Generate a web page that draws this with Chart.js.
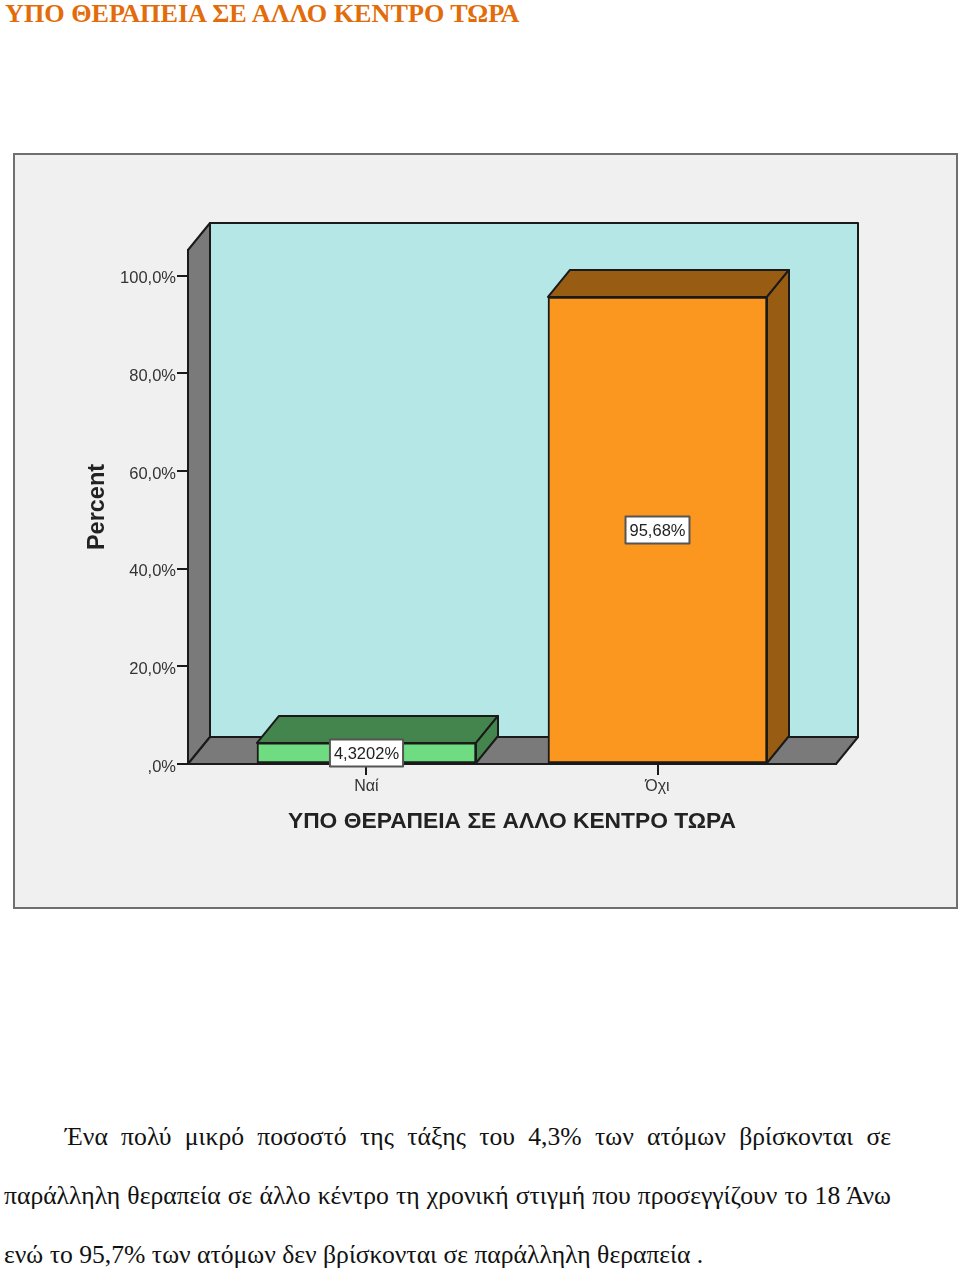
<!DOCTYPE html>
<html lang="el">
<head>
<meta charset="utf-8">
<title>ΥΠΟ ΘΕΡΑΠΕΙΑ ΣΕ ΑΛΛΟ ΚΕΝΤΡΟ ΤΩΡΑ</title>
<script src="https://cdn.jsdelivr.net/npm/chart.js@4"></script>
<style>
    html, body { margin: 0; padding: 0; background: #fff; height: 1268px; overflow: hidden; }
    #heading { position: absolute; left: 5px; top: 0; margin: 0; font: bold 26.2px/27px "Liberation Serif", serif; color: #e36c0a; white-space: nowrap; }
    #panel { position: absolute; left: 13px; top: 153px; width: 941px; height: 752px; background: #f0f0f0; border: 2px solid #6f6f6f; }
    #chart { position: absolute; left: -2px; top: -2px; }
    #summary { position: absolute; left: 4px; top: 1106.5px; width: 887px; margin: 0; font: 25.65px/59px "Liberation Serif", serif; color: #111; text-align: justify; text-indent: 61px; }
</style>
</head>
<body>
<h1 id="heading">ΥΠΟ ΘΕΡΑΠΕΙΑ ΣΕ ΑΛΛΟ ΚΕΝΤΡΟ ΤΩΡΑ</h1>
<div id="panel"><canvas id="chart" width="944" height="756"></canvas></div>
<p id="summary">Ένα πολύ μικρό ποσοστό της τάξης του 4,3% των ατόμων βρίσκονται σε παράλληλη θεραπεία σε άλλο κέντρο τη χρονική στιγμή που προσεγγίζουν το 18 Άνω ενώ το 95,7% των ατόμων δεν βρίσκονται σε παράλληλη θεραπεία .</p>
<script>
const categories = ["Ναί", "Όχι"];
const percents = [4.3202, 95.68];
const valueLabels = ["4,3202%", "95,68%"];
const frontColors = ["#70dc82", "#fb961e"];
const sideColors = ["#44854e", "#985c12"];
const axisTitleX = "ΥΠΟ ΘΕΡΑΠΕΙΑ ΣΕ ΑΛΛΟ ΚΕΝΤΡΟ ΤΩΡΑ";
const axisTitleY = "Percent";

const depthX = 22, depthY = -27;
const lineColor = "#1a1a1a";
const chartFont = "Liberation Sans";

function face(ctx, points, fill) {
    ctx.beginPath();
    points.forEach((p, i) => i ? ctx.lineTo(p[0], p[1]) : ctx.moveTo(p[0], p[1]));
    ctx.closePath();
    ctx.fillStyle = fill;
    ctx.fill();
    ctx.strokeStyle = lineColor;
    ctx.lineWidth = 2;
    ctx.stroke();
}

// the box behind the bars: back wall, left wall and floor
const wallsPlugin = {
    id: "walls",
    beforeDatasetsDraw(chart) {
        let { left, right, top, bottom } = chart.chartArea;
        let ctx = chart.ctx;
        ctx.save();
        ctx.lineJoin = "round";
        face(ctx, [[left + depthX, top + depthY], [right + depthX, top + depthY], [right + depthX, bottom + depthY], [left + depthX, bottom + depthY]], "#b5e7e7");
        face(ctx, [[left, top], [left + depthX, top + depthY], [left + depthX, bottom + depthY], [left, bottom]], "#7a7a7a");
        face(ctx, [[left, bottom], [left + depthX, bottom + depthY], [right + depthX, bottom + depthY], [right, bottom]], "#7a7a7a");
        ctx.restore();
    }
};

// top and side faces of each bar, then the value boxes
const barFacesPlugin = {
    id: "barFaces",
    afterDatasetsDraw(chart) {
        let ctx = chart.ctx;
        let bars = chart.getDatasetMeta(0).data;
        ctx.save();
        ctx.lineJoin = "round";
        bars.forEach((bar, i) => {
            let l = bar.x - bar.width / 2, r = bar.x + bar.width / 2;
            face(ctx, [[l, bar.y], [l + depthX, bar.y + depthY], [r + depthX, bar.y + depthY], [r, bar.y]], sideColors[i]);
            face(ctx, [[r, bar.y], [r + depthX, bar.y + depthY], [r + depthX, bar.base + depthY], [r, bar.base]], sideColors[i]);
        });
        ctx.font = "16.5px '" + chartFont + "'";
        ctx.textAlign = "center";
        ctx.textBaseline = "middle";
        bars.forEach((bar, i) => {
            let cy = (bar.y + bar.base) / 2;
            let w = ctx.measureText(valueLabels[i]).width + 8, h = 27;
            ctx.fillStyle = "#fff";
            ctx.strokeStyle = "#555";
            ctx.lineWidth = 2;
            ctx.fillRect(bar.x - w / 2, cy - h / 2, w, h);
            ctx.strokeRect(bar.x - w / 2, cy - h / 2, w, h);
            ctx.fillStyle = "#222";
            ctx.fillText(valueLabels[i], bar.x, cy + 1);
        });
        ctx.restore();
    }
};

new Chart(document.getElementById("chart"), {
    type: "bar",
    data: {
        datasets: [{
            data: categories.map((c, i) => ({ x: i, y: percents[i] })),
            backgroundColor: frontColors,
            borderColor: lineColor,
            borderWidth: 2,
            borderSkipped: false,
            barThickness: 219
        }]
    },
    options: {
        responsive: false,
        animation: false,
        layout: { padding: { left: 70, right: 121, top: 97, bottom: 70 } },
        plugins: { legend: { display: false }, tooltip: { enabled: false } },
        scales: {
            x: {
                type: "linear",
                offset: false,
                min: -0.6134,
                max: 1.6134,
                afterBuildTicks(axis) { axis.ticks = categories.map((c, i) => ({ value: i })); },
                afterFit(axis) { axis.height = 75; },
                grid: { offset: false, drawOnChartArea: false, color: lineColor, lineWidth: 2, tickLength: 11 },
                border: { color: lineColor, width: 2 },
                ticks: {
                    autoSkip: false,
                    maxRotation: 0,
                    padding: 2,
                    color: "#333",
                    font: { family: chartFont, size: 16 },
                    callback: value => categories[value]
                },
                title: {
                    display: true,
                    text: axisTitleX,
                    color: "#222",
                    padding: { top: 0, bottom: 4 },
                    font: { family: chartFont, size: 22.8, weight: "bold" }
                }
            },
            y: {
                min: 0,
                max: 105.3,
                afterFit(axis) { axis.width = 105; },
                grid: { drawOnChartArea: false, color: lineColor, lineWidth: 2, tickLength: 11 },
                border: { color: lineColor, width: 2 },
                ticks: {
                    stepSize: 20,
                    includeBounds: false,
                    padding: 1,
                    labelOffset: 3,
                    color: "#333",
                    font: { family: chartFont, size: 16.5 },
                    callback: value => (value === 0 ? ",0" : value.toFixed(1).replace(".", ",")) + "%"
                },
                title: {
                    display: true,
                    text: axisTitleY,
                    color: "#222",
                    padding: 0,
                    font: { family: chartFont, size: 23.5, weight: "bold" }
                }
            }
        }
    },
    plugins: [wallsPlugin, barFacesPlugin]
});
</script>
</body>
</html>
